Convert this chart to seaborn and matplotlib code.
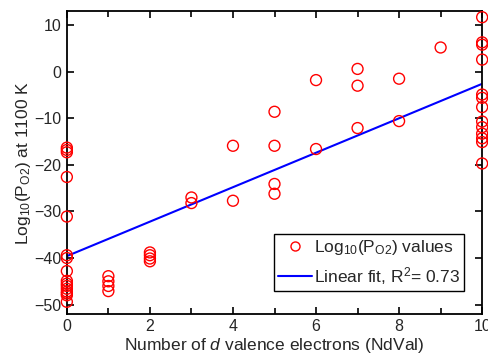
import numpy as np
import pandas as pd
import matplotlib
matplotlib.use("Agg")
import matplotlib.pyplot as plt
import seaborn as sns
from matplotlib.ticker import MultipleLocator
from matplotlib.lines import Line2D

# ---- data ----
x0 = [-16.3, -16.8, -17.3, -22.6, -31.1, -39.4, -40.0, -42.8, -44.9, -45.5, -46.0, -46.6,
      -47.2, -47.6, -48.0, -49.4]
x1 = [-43.9, -45.0, -46.0, -47.1]
x2 = [-38.8, -39.4, -40.1, -40.7]
x3 = [-27.0, -28.2]
x4 = [-15.9, -27.7]
x5 = [-8.6, -15.9, -24.1, -26.2]
x6 = [-1.8, -16.6]
x7 = [0.6, -3.0, -12.1]
x8 = [-1.5, -10.6]
x9 = [5.2]
x10 = [11.7, 6.3, 5.8, 2.6, -4.9, -5.6, -7.6, -10.7, -11.9, -13.3, -14.3, -15.1, -19.7]
groups = [x0, x1, x2, x3, x4, x5, x6, x7, x8, x9, x10]

nd = []
po2 = []
for k, g in enumerate(groups):
    nd += [k] * len(g)
    po2 += g
df = pd.DataFrame({"NdVal": nd, "logPO2": po2})

scatter_label = r"Log$_{10}$(P$_{\mathrm{O2}}$) values"
fit_label = r"Linear fit, R$^2$= 0.73"
xlabel = r"Number of $d$ valence electrons (NdVal)"
ylabel = r"Log$_{10}$(P$_{\mathrm{O2}}$) at 1100 K"

sns.set_style("ticks")
plt.rcParams["font.family"] = ["Liberation Sans", "DejaVu Sans"]
plt.rcParams["mathtext.fontset"] = "custom"
plt.rcParams["mathtext.rm"] = "Liberation Sans"
plt.rcParams["mathtext.it"] = "Liberation Sans:italic"
plt.rcParams["mathtext.bf"] = "Liberation Sans:bold"

fig = plt.figure(figsize=(4.88, 3.6), dpi=100)
ax = fig.add_axes([0.137, 0.128, 0.851, 0.841])

sns.regplot(data=df, x="NdVal", y="logPO2", ci=None, scatter=False, ax=ax,
            line_kws={"color": "#0000ff", "lw": 1.5})
ax.scatter(df["NdVal"], df["logPO2"], s=62, facecolors="none",
           edgecolors="#ff0000", linewidths=1.0, clip_on=False, zorder=3)

ax.set_xlim(0, 10)
ax.set_ylim(-52, 13)
ax.xaxis.set_major_locator(MultipleLocator(2))
ax.xaxis.set_minor_locator(MultipleLocator(1))
ax.yaxis.set_major_locator(MultipleLocator(10))
ax.tick_params(axis="both", which="both", direction="in", top=True, right=True,
               labelsize=11.5, color="black", width=1.2)
ax.tick_params(which="major", length=5, pad=4)
ax.tick_params(which="minor", length=4)
for s in ax.spines.values():
    s.set_linewidth(1.3)
    s.set_color("black")
    s.set_visible(True)

ax.set_xlabel(xlabel, fontsize=12.5, labelpad=1)
ax.set_ylabel(ylabel, fontsize=12.5, labelpad=1)

handles = [Line2D([], [], ls="none", marker="o", mfc="none", mec="#ff0000",
                  ms=6.5, mew=1.0),
           Line2D([], [], color="#0000ff", lw=1.5)]
leg = ax.legend(handles, [scatter_label, fit_label], loc="lower right",
                bbox_to_anchor=(0.957, 0.076), fontsize=12.5, frameon=True,
                fancybox=False, edgecolor="black", framealpha=1,
                handlelength=1.95, handletextpad=0.1, borderpad=0.25,
                labelspacing=0.45, borderaxespad=0)
leg.get_frame().set_linewidth(1.0)

fig.savefig("out.png", dpi=100)
